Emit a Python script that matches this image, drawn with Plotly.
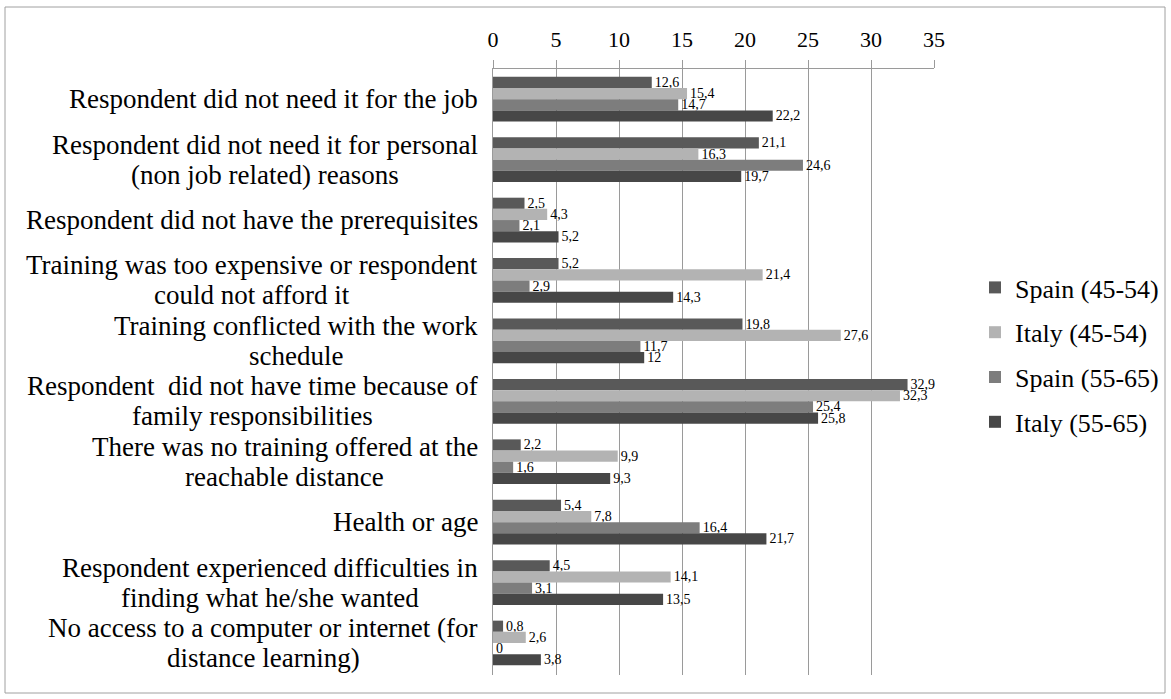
import plotly.graph_objects as go

categories = [
    "Respondent did not need it for the job",
    "Respondent did not need it for personal<br>(non job related) reasons",
    "Respondent did not have the prerequisites",
    "Training was too expensive or respondent<br>could not afford it",
    "Training conflicted with the work<br>schedule",
    "Respondent  did not have time because of<br>family responsibilities",
    "There was no training offered at the<br>reachable distance",
    "Health or age",
    "Respondent experienced difficulties in<br>finding what he/she wanted",
    "No access to a computer or internet (for<br>distance learning)",
]
series_names = ["Spain (45-54)", "Italy (45-54)", "Spain (55-65)", "Italy (55-65)"]
spain_45 = [12.6, 21.1, 2.5, 5.2, 19.8, 32.9, 2.2, 5.4, 4.5, 0.8]
italy_45 = [15.4, 16.3, 4.3, 21.4, 27.6, 32.3, 9.9, 7.8, 14.1, 2.6]
spain_55 = [14.7, 24.6, 2.1, 2.9, 11.7, 25.4, 1.6, 16.4, 3.1, 0]
italy_55 = [22.2, 19.7, 5.2, 14.3, 12, 25.8, 9.3, 21.7, 13.5, 3.8]
colors = ["#595959", "#b3b3b3", "#7d7d7d", "#474747"]
x_ticks = [0, 5, 10, 15, 20, 25, 30, 35]

FONT = "Liberation Serif, Times New Roman, serif"
ids = [f"c{i}" for i in range(len(categories))]

L, R, T, B = 493, 237, 69, 24
PW, PH = 1171 - L - R, 699 - T - B
CAT_SIZE = 27
LINE_GAP = 30
LABEL_RIGHT = 478

# Times/Liberation Serif advance widths (per 1000 em) for text measurement
_W = {" ": 250, "(": 333, ")": 333, "/": 278, "-": 333,
      "a": 444, "b": 500, "c": 444, "d": 500, "e": 444, "f": 333, "g": 500, "h": 500,
      "i": 278, "j": 278, "k": 500, "l": 278, "m": 778, "n": 500, "o": 500, "p": 500,
      "q": 500, "r": 333, "s": 389, "t": 278, "u": 500, "v": 500, "w": 722, "x": 500,
      "y": 500, "z": 444, "R": 667, "T": 611, "H": 722, "N": 722}


def text_width(s, size):
    return sum(_W.get(ch, 500) for ch in s) * size / 1000.0


def fmt(v):
    return (f"{v:g}").replace(".", ",")


fig = go.Figure()
for name, vals, col in zip(series_names, [spain_45, italy_45, spain_55, italy_55], colors):
    fig.add_trace(go.Bar(
        y=ids, x=vals, name=name, orientation="h",
        marker=dict(color=col, line=dict(width=0)),
        text=[fmt(v) for v in vals], textposition="outside",
        constraintext="none",
        textfont=dict(family=FONT, size=14, color="#000"),
        cliponaxis=False, legendgroup=name,
    ))

for cid, lab in zip(ids, categories):
    lines = lab.split("<br>")
    maxw = max(text_width(s, CAT_SIZE) for s in lines)
    cx = LABEL_RIGHT - maxw / 2.0
    n = len(lines)
    for k, s in enumerate(lines):
        shift = ((n - 1) / 2.0 - k) * LINE_GAP
        fig.add_annotation(
            x=(cx - L) / PW, xref="paper", y=cid, yref="y", yshift=shift,
            text=s, showarrow=False, xanchor="center", yanchor="middle",
            font=dict(family=FONT, size=CAT_SIZE, color="#000"),
        )

fig.add_shape(type="rect", xref="paper", yref="paper",
              x0=(5 - L) / PW, x1=(1165 - L) / PW,
              y0=((699 - B) - 693) / PH, y1=((699 - B) - 7) / PH,
              line=dict(color="#a0a0a0", width=1), fillcolor="rgba(0,0,0,0)", layer="below")

fig.update_layout(
    width=1171, height=699,
    margin=dict(l=L, r=R, t=T, b=B, autoexpand=False),
    paper_bgcolor="white", plot_bgcolor="white",
    barmode="group", bargap=0.26, bargroupgap=0,
    font=dict(family=FONT, color="#000"),
    legend=dict(x=(1164 - L) / PW, xanchor="right", y=((699 - B) - 355) / PH, yanchor="middle",
                font=dict(family=FONT, size=26), tracegroupgap=8,
                bgcolor="rgba(0,0,0,0)"),
    showlegend=True,
)
fig.update_xaxes(side="top", range=[0, 35], tickvals=x_ticks,
                 tickfont=dict(family=FONT, size=22),
                 showgrid=True, gridcolor="#9a9a9a", gridwidth=1,
                 showline=True, linecolor="#9a9a9a", ticks="outside", ticklen=8,
                 tickcolor="#9a9a9a", zeroline=False, ticklabelstandoff=4)
fig.update_yaxes(autorange="reversed", showticklabels=False, showline=True,
                 linecolor="#9a9a9a", ticks="", showgrid=False)

fig.write_html("out.html")
